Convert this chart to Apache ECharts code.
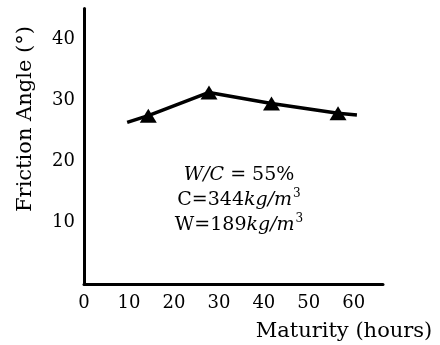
<!DOCTYPE html>
<html>
<head>
<meta charset="utf-8">
<script src="https://cdn.jsdelivr.net/npm/echarts@6/dist/echarts.min.js"></script>
<style>
html,body{margin:0;padding:0;background:#fff;}
#chart{width:440px;height:345px;}
</style>
</head>
<body>
<div id="chart"></div>
<script>
// Fitted line (start and end without markers)
var lineMaturity = [9.6, 14.3, 27.8, 41.7, 56.5, 60.7];
var lineFriction = [26.4, 27.5, 31.3, 29.5, 27.9, 27.6];
// Measured points (triangles)
var pointMaturity = [14.3, 27.8, 41.7, 56.5];
var pointFriction = [27.5, 31.3, 29.5, 27.9];
var xTicks = [0, 10, 20, 30, 40, 50, 60];
var yTicks = [10, 20, 30, 40];
var xTitle = 'Maturity (hours)';
var yTitle = 'Friction Angle (°)';
var noteLines = ['{i|W/C} = 55%', 'C=344{i|kg/m}{sup|3}', 'W=189{i|kg/m}{sup|3}'];

var FONT = 'DejaVu Serif';
var chart = echarts.init(document.getElementById('chart'), null, {renderer: 'canvas'});
var option = {
  backgroundColor: '#ffffff',
  animation: false,
  grid: {left: 84, top: 8.6, width: 299, height: 275.4, containLabel: false},
  xAxis: {
    type: 'value', min: 0, max: 66.5, interval: 10,
    axisLine: {show: true, onZero: false, lineStyle: {color: '#000', width: 3}},
    axisTick: {show: false}, splitLine: {show: false},
    axisLabel: {
      margin: 10, color: '#000', fontFamily: FONT, fontSize: 18,
      showMaxLabel: false,
      formatter: function (v) { return xTicks.indexOf(v) >= 0 ? String(v) : ''; }
    }
  },
  yAxis: {
    type: 'value', min: 0, max: 45, interval: 10,
    axisLine: {show: true, onZero: false, lineStyle: {color: '#000', width: 3}},
    axisTick: {show: false}, splitLine: {show: false},
    axisLabel: {
      margin: 9, color: '#000', fontFamily: FONT, fontSize: 18,
      showMinLabel: false, showMaxLabel: false,
      formatter: function (v) { return yTicks.indexOf(v) >= 0 ? String(v) : ''; }
    }
  },
  series: [
    {
      type: 'line',
      data: lineMaturity.map(function (x, i) { return [x, lineFriction[i]]; }),
      showSymbol: false, symbol: 'none',
      lineStyle: {color: '#000', width: 3.5},
      z: 2
    },
    {
      type: 'scatter',
      data: pointMaturity.map(function (x, i) { return [x, pointFriction[i]]; }),
      symbol: 'triangle', symbolSize: [17, 14],
      itemStyle: {color: '#000', opacity: 1},
      z: 3
    }
  ],
  graphic: [
    {
      type: 'text', x: 26, y: 119, rotation: Math.PI / 2,
      style: {text: yTitle, fill: '#000', font: '21px "DejaVu Serif"', textAlign: 'center', textVerticalAlign: 'middle'}
    },
    {
      type: 'text', x: 344, y: 332,
      style: {text: xTitle, fill: '#000', font: '21px "DejaVu Serif"', textAlign: 'center', textVerticalAlign: 'middle'}
    },
    {
      type: 'text', x: 239, y: 200,
      style: {
        text: noteLines.join('\n'),
        fill: '#000', fontFamily: FONT, fontSize: 19, lineHeight: 25,
        textAlign: 'center', textVerticalAlign: 'middle',
        rich: {
          i: {fontFamily: FONT, fontStyle: 'italic', fontSize: 19, fill: '#000'},
          sup: {fontFamily: FONT, fontSize: 12, fill: '#000', verticalAlign: 'top', padding: [0, 0, 8, 1]}
        }
      }
    }
  ]
};
chart.setOption(option);
</script>
</body>
</html>
